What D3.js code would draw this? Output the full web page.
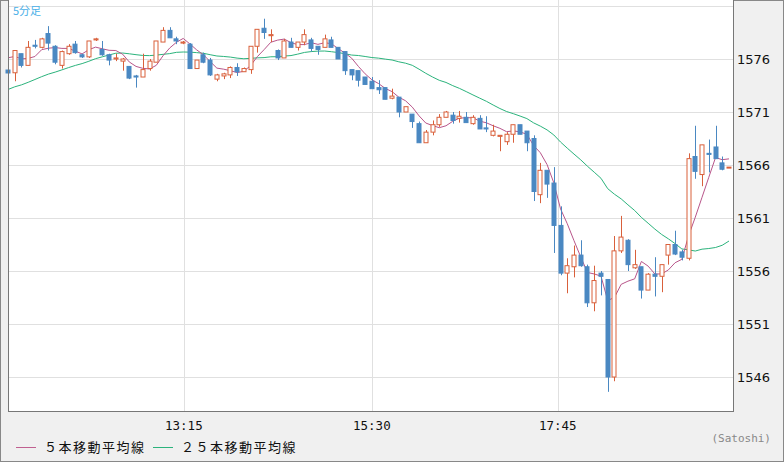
<!DOCTYPE html>
<html><head><meta charset="utf-8">
<script src="https://cdn.jsdelivr.net/npm/d3@7"></script>
<style>body{margin:0;background:#f0f0f0}svg{display:block}</style>
</head><body><svg id="c" width="784" height="462"></svg>
<script>
// OHLC data (5-minute candles)
const opens  = [1574.96,1574.7,1576.5,1575.4,1577.3,1577.1,1578.4,1577.2,1575.4,1576.5,1577.4,1576.4,1576.2,1577.8,1576.9,1576.4,1576.0,1575.8,1575.3,1574.4,
1574.3,1575.1,1575.7,1577.6,1578.7,1577.9,1577.5,1577.4,1575.1,1576.4,1575.9,1574.1,1574.4,1574.5,1575.2,1574.8,1575.0,1577.2,1578.9,1578.2,
1576.8,1576.1,1577.6,1577.1,1577.6,1577.8,1577.2,1577.1,1577.8,1577.1,1576.7,1575.0,1574.9,1574.3,1573.9,1573.3,1573.3,1572.3,1572.4,1571.0,
1570.8,1569.9,1568.1,1569.1,1569.8,1570.5,1570.7,1570.4,1570.5,1569.9,1570.4,1569.5,1568.8,1568.7,1568.2,1568.9,1569.8,1569.2,1568.5,1563.2,
1565.5,1564.3,1560.3,1555.8,1556.4,1557.5,1556.4,1553.0,1555.8,1555.2,1546.0,1557.9,1558.9,1556.3,1556.4,1554.2,1555.7,1555.5,1557.5,1558.5,
1557.8,1557.2,1566.8,1565.1,1567.1,1567.7,1566.2,1565.8];
const highs  = [1575.1,1576.8,1576.5,1577.7,1577.8,1578.0,1579.1,1577.3,1576.8,1577.4,1577.7,1576.5,1577.7,1578.0,1577.7,1576.5,1576.5,1576.1,1575.3,1574.5,
1576.5,1576.0,1577.7,1579.0,1579.0,1578.1,1577.7,1577.5,1575.9,1576.6,1576.1,1574.6,1574.7,1575.3,1575.6,1575.2,1577.2,1578.8,1579.8,1578.8,
1576.9,1577.9,1578.0,1577.6,1578.8,1578.0,1577.2,1578.3,1578.1,1577.1,1576.7,1575.0,1574.9,1574.3,1574.3,1574.0,1573.3,1573.2,1572.4,1571.5,
1570.8,1570.1,1569.3,1570.2,1570.8,1571.1,1571.0,1571.1,1571.0,1570.7,1570.7,1570.6,1569.8,1568.8,1569.1,1569.8,1569.8,1569.2,1568.8,1566.2,
1565.5,1565.8,1562.1,1557.2,1558.4,1558.9,1556.6,1556.5,1556.0,1555.2,1559.3,1561.2,1559.0,1558.0,1556.4,1555.8,1557.3,1556.6,1558.5,1559.8,
1558.0,1567.1,1569.7,1567.9,1568.4,1569.7,1566.8,1565.8];
const lows   = [1574.6,1573.9,1575.2,1575.4,1577.0,1577.0,1576.8,1575.5,1575.1,1576.4,1576.5,1576.1,1576.1,1577.7,1576.3,1575.4,1575.8,1574.9,1574.1,1573.3,
1574.3,1574.9,1575.7,1577.6,1578.0,1577.4,1577.4,1575.1,1575.1,1575.6,1574.4,1573.9,1574.1,1574.2,1574.4,1574.8,1574.6,1576.6,1577.9,1577.6,
1575.9,1576.1,1577.1,1576.8,1577.3,1576.7,1576.4,1577.1,1577.1,1576.0,1574.5,1574.0,1573.4,1573.6,1573.2,1572.7,1572.2,1572.2,1570.5,1571.0,
1569.5,1568.1,1568.1,1568.8,1569.6,1570.5,1569.9,1570.0,1570.0,1569.8,1569.4,1569.1,1568.7,1567.3,1567.9,1568.1,1568.9,1567.3,1562.6,1562.4,
1562.9,1557.7,1555.6,1553.9,1555.4,1556.4,1552.6,1552.2,1553.7,1544.6,1545.6,1557.7,1556.0,1556.2,1553.4,1554.2,1553.6,1554.0,1556.6,1557.5,
1557.0,1557.0,1564.7,1564.0,1565.3,1566.6,1565.5,1565.8];
const closes = [1574.68,1576.8,1575.4,1577.1,1577.2,1577.9,1577.5,1575.7,1576.7,1577.2,1576.6,1576.2,1577.7,1577.9,1576.4,1575.9,1576.1,1576.0,1574.2,1574.3,
1575.0,1575.8,1577.7,1578.7,1578.0,1577.7,1577.6,1575.1,1575.9,1575.7,1574.5,1574.5,1574.6,1575.2,1574.8,1575.1,1577.2,1578.8,1578.5,1578.3,
1576.1,1577.7,1577.1,1577.6,1578.3,1577.0,1576.9,1577.9,1577.1,1576.0,1574.9,1574.5,1574.0,1573.6,1573.2,1573.1,1572.2,1572.5,1571.0,1571.5,
1570.1,1568.1,1569.1,1569.8,1570.5,1571.0,1570.2,1570.6,1570.0,1570.5,1569.4,1569.4,1569.2,1568.8,1568.9,1569.8,1568.9,1568.1,1563.5,1565.5,
1564.2,1560.3,1555.8,1556.5,1557.5,1556.5,1553.0,1555.1,1555.5,1546.0,1557.9,1559.2,1556.6,1556.6,1554.2,1555.7,1555.5,1556.6,1558.5,1557.6,
1557.3,1566.6,1565.4,1567.9,1567.0,1566.6,1565.6,1565.8];
// closes of the 24 candles before the visible range (for the moving averages)
const prevCloses = [1570.5,1570.8,1571.0,1570.6,1571.2,1571.5,1571.0,1571.4,1571.8,1571.5,1571.9,1572.2,1571.8,1572.0,1571.6,1572.0,1575.5,1576.0,1576.4,1576.8,1576.2,1576.5,1576.9,1576.3];
const yTicks = [1546,1551,1556,1561,1566,1571,1576];
const yGrid = [1546,1551,1556,1561,1566,1571,1576,1581];
const timeTicks = [{i:26.1,label:"13:15"},{i:54,label:"15:30"},{i:81.6,label:"17:45"}];
const legendItems = [{label:"５本移動平均線",color:"#c06090"},{label:"２５本移動平均線",color:"#2bb37c"}];

const svg = d3.select("#c");
const L=8,R=733,T=0,B=411;
svg.append("rect").attr("x",0.5).attr("y",0.5).attr("width",783).attr("height",461).attr("fill","#f0f0f0").attr("stroke","#888");
svg.append("rect").attr("x",L).attr("y",T).attr("width",R-L).attr("height",B-T).attr("fill","#fff");

const x = d3.scaleLinear().domain([0,107]).range([8,729]);
const y = d3.scaleLinear().domain([1546,1576]).range([377,59]);

const g = svg.append("g");
g.selectAll(".hg").data(yGrid).join("line").attr("x1",L).attr("x2",R).attr("y1",d=>Math.round(y(d))+0.5).attr("y2",d=>Math.round(y(d))+0.5).attr("stroke","#e0e0e0");
g.selectAll(".vg").data(timeTicks).join("line").attr("y1",T).attr("y2",B).attr("x1",d=>Math.round(x(d.i))+0.5).attr("x2",d=>Math.round(x(d.i))+0.5).attr("stroke","#e0e0e0");

const all = prevCloses.concat(closes);
function ma(n){return closes.map((c,i)=>{const j=i+prevCloses.length;return d3.mean(all.slice(j-n+1,j+1));});}
const ma5=ma(5), ma25=ma(25);
const line=d3.line().x((d,i)=>x(i)).y(d=>y(d));
g.append("path").attr("d",line(ma25)).attr("fill","none").attr("stroke","#2bb37c").attr("stroke-width",1);
g.append("path").attr("d",line(ma5)).attr("fill","none").attr("stroke","#b8558a").attr("stroke-width",1);

const bw=4.6;
const idx=d3.range(closes.length);
g.selectAll(".wick").data(idx).join("line")
 .attr("x1",i=>Math.round(x(i))+0.5).attr("x2",i=>Math.round(x(i))+0.5)
 .attr("y1",i=>y(highs[i])).attr("y2",i=>y(lows[i]))
 .attr("stroke",i=>closes[i]>=opens[i]?"#d9603b":"#4a88c2").attr("stroke-width",1);
g.selectAll(".body").data(idx).join("rect")
 .attr("x",i=>Math.round(x(i))-2.5+0.5).attr("width",bw-0.6)
 .attr("y",i=>y(Math.max(opens[i],closes[i])))
 .attr("height",i=>Math.max(1,Math.abs(y(opens[i])-y(closes[i]))))
 .attr("fill",i=>closes[i]>=opens[i]?"#fff":"#4a88c2")
 .attr("stroke",i=>closes[i]>=opens[i]?"#d9603b":"#4a88c2").attr("stroke-width",1);

svg.append("rect").attr("x",L+0.5).attr("y",-1).attr("width",R-L).attr("height",B+1.5).attr("fill","none").attr("stroke","#777");

const font="'DejaVu Sans Mono','Liberation Mono',monospace";
svg.selectAll(".yl").data(yTicks).join("text").attr("x",737).attr("y",d=>y(d)+5).text(d=>d)
 .attr("font-family","'DejaVu Sans',sans-serif").attr("font-size",13).attr("fill","#111");
svg.selectAll(".xl").data(timeTicks).join("text").attr("x",d=>x(d.i)).attr("y",430).attr("text-anchor","middle").text(d=>d.label)
 .attr("font-family",font).attr("font-size",12.5).attr("fill","#111");
svg.append("text").attr("x",13).attr("y",15).text("5分足").attr("font-family","'Noto Sans CJK JP',sans-serif").attr("font-size",11).attr("fill","#4ab0e8");
svg.append("text").attr("x",771).attr("y",442).attr("text-anchor","end").text("(Satoshi)").attr("font-family",font).attr("font-size",11).attr("fill","#888");
const lg=svg.selectAll(".lg").data(legendItems).join("g").attr("transform",(d,i)=>`translate(${i===0?16:153},447)`);
lg.append("line").attr("x1",0).attr("x2",20).attr("y1",0.5).attr("y2",0.5).attr("stroke",d=>d.color);
lg.append("text").attr("x",28).attr("y",5).text(d=>d.label).attr("font-family","'Noto Sans CJK JP',sans-serif").attr("font-size",13).attr("letter-spacing",1.5).attr("fill","#111");
</script></body></html>
